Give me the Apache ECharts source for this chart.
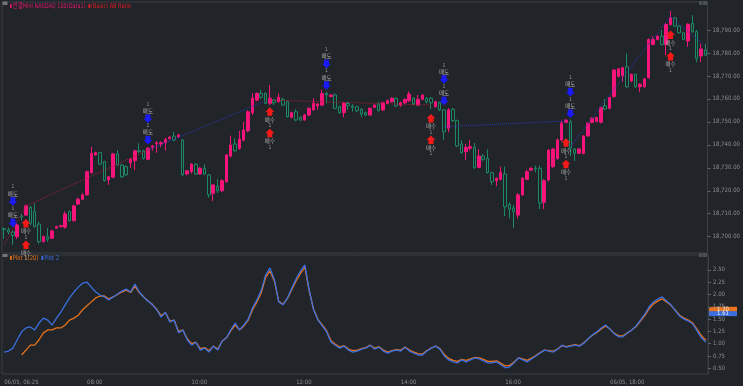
<!DOCTYPE html>
<html>
<head>
<meta charset="utf-8">
<script src="https://cdn.jsdelivr.net/npm/echarts@6/dist/echarts.min.js"></script>
<style>
html, body { margin: 0; padding: 0; background: #212428; }
#main { width: 743px; height: 386px; }
</style>
</head>
<body>
<div id="main"></div>
<script>
// 5 minute bars, [open, close, low, high]
var candles = [
  [18703.5,18703,18699,18704],[18703,18702,18701,18704],[18702,18700.5,18696.5,18702.8],[18700,18705.1,18699,18706],
  [18709,18708.5,18707,18710],[18709.4,18713.4,18709,18714],[18712.8,18705.8,18705,18713.5],[18710.9,18704.4,18704,18714.5],
  [18705.5,18697.8,18697,18706.5],[18697.8,18700,18697.5,18700.5],[18700,18698.9,18697.8,18703.7],[18699.3,18702.5,18699,18703],
  [18703.7,18704.4,18703.5,18704.8],[18704.4,18704.8,18704,18705.2],[18704.1,18709.9,18703.5,18711],[18710.9,18707,18706.5,18711.5],
  [18707,18713.4,18706.5,18714],[18714.2,18716.3,18713.8,18717],[18716.3,18718.2,18716,18719],[18718.2,18728.3,18718,18728.8],
  [18727.9,18736.3,18727.5,18739.2],[18735.6,18736.6,18735.3,18737],[18736.6,18731.6,18731.2,18737],[18732.7,18724.4,18724,18733],
  [18724.7,18726.1,18722.5,18726.5],[18725.9,18736,18725.5,18736.5],[18736,18731.2,18730.8,18737.7],[18731.2,18726.1,18725.5,18731.7],
  [18730.5,18727,18726.5,18731],[18732.2,18733.7,18730,18734],[18733.1,18737.4,18729,18737.8],[18737.4,18737,18736.5,18740.7],
  [18737.4,18734.1,18733.5,18737.8],[18733.7,18738.5,18733.3,18739],[18738.9,18739.5,18737.5,18740],[18740.4,18740.9,18736.5,18741.5],
  [18740.4,18740.9,18739,18741.5],[18740.9,18742.4,18737.5,18743],[18742.7,18743.3,18742.3,18743.8],[18743.8,18742.1,18741.5,18745.7],
  [18743.5,18744.3,18743,18744.8],[18742.1,18726.9,18726.5,18742.5],[18727.3,18728.7,18726.8,18729],[18728.3,18731.6,18727.5,18732],
  [18731.6,18727.3,18727,18732],[18727.3,18729.8,18727,18730.3],[18729.8,18727.3,18726.8,18731.5],[18726.9,18718.2,18717,18727.3],
  [18718.9,18722.5,18715.5,18723],[18722,18720,18719,18725],[18720,18724.4,18719.5,18725],[18723.9,18735.6,18723.5,18736],
  [18735.1,18739.9,18734.5,18744],[18740.4,18737.4,18737,18742.8],[18738.5,18742.4,18737.8,18746],[18742.1,18746.5,18741.5,18750],
  [18746.1,18754.4,18745.5,18755],[18754,18760.3,18753,18762.5],[18759.5,18762.4,18759,18762.8],[18762.4,18760.7,18760.2,18764],
  [18762.4,18758.1,18757.7,18762.8],[18758.1,18760.3,18757.3,18766],[18759.5,18758.3,18757.3,18760],[18758.8,18760.7,18758.4,18762.4],
  [18759.8,18757.3,18757,18760.5],[18758.8,18752.2,18752,18759.2],[18752,18754,18751.5,18754.4],[18754.4,18750.8,18750.3,18755.5],
  [18752,18750.8,18750.5,18752.5],[18750.8,18753,18750.5,18753.4],[18753,18755.9,18752.5,18756.3],[18755.2,18758.1,18754.8,18760.3],
  [18756.9,18757.8,18755.2,18758.2],[18757.3,18762.4,18756.9,18764],[18762.4,18761.7,18758,18763.2],[18761.1,18761.7,18760.7,18762.1],
  [18761.7,18755.9,18755.5,18762.4],[18756.6,18754,18753.5,18757],[18754,18758.1,18752,18758.5],[18758,18757,18755.2,18758.8],
  [18756.9,18756.3,18754.5,18757.7],[18756.6,18754.9,18754.3,18757],[18755.5,18753.4,18752,18756],[18754,18753,18752.5,18754.5],
  [18753,18755.9,18752.7,18756.3],[18756.3,18757.3,18756,18757.7],[18757.8,18754.9,18754.5,18758.8],[18755.2,18758.3,18754.8,18758.8],
  [18758.1,18759.2,18757.7,18759.8],[18758.8,18760.3,18758.4,18760.7],[18760.3,18756.9,18756.5,18760.7],[18757.3,18758.3,18756.5,18758.8],
  [18758.3,18759.8,18757.8,18760.2],[18759.2,18762.1,18758.8,18763.2],[18760.3,18757.8,18757.3,18760.7],[18757.3,18759.8,18756.9,18761.7],
  [18759.8,18761.7,18759.5,18762],[18760.3,18758.8,18758,18760.7],[18760.3,18758.3,18755.5,18760.7],[18756.6,18758.8,18756.3,18759.2],
  [18758.3,18755.2,18754.7,18758.8],[18755.2,18745.7,18742.1,18755.6],[18747.2,18755.2,18745.5,18756],[18755.5,18750.5,18750,18756],
  [18750.5,18739.5,18739,18751],[18740.4,18736.6,18736.2,18742.1],[18737,18738.9,18733.4,18740.4],[18738.5,18739.2,18737.5,18742.1],
  [18738.9,18730.2,18729.5,18740.8],[18730.2,18735.1,18729.8,18738.1],[18735.1,18733.7,18733,18736],[18734.1,18727.9,18727.5,18738],
  [18727.9,18723.9,18722.5,18728.3],[18724.4,18725.4,18722,18725.8],[18725,18727.9,18724.6,18730.5],[18727.3,18713,18709,18730.5],
  [18714,18712,18708,18715],[18712.5,18710.9,18703.8,18713.8],[18709.4,18718.2,18708,18719],[18718.2,18725.4,18717.8,18726],
  [18725,18728.3,18724.6,18729],[18729,18729.8,18728.5,18730.2],[18729.8,18729.5,18728,18731],[18729.8,18714.6,18712,18731],
  [18715,18724.4,18712,18725],[18724.7,18737.7,18724,18738],[18730.5,18738.2,18730,18738.6],[18734.1,18742.1,18733.5,18742.8],
  [18742.1,18749.4,18741.5,18750.4],[18749.8,18750.8,18749.5,18751],[18750,18738.5,18735,18751],[18738.2,18736.3,18733,18738.6],
  [18736.3,18738.2,18736,18738.6],[18736.3,18743.9,18735.8,18744.2],[18743.9,18749.4,18743.5,18749.8],[18749.8,18751.6,18749.4,18752],
  [18750.2,18751.9,18749.8,18752.2],[18749.8,18756.2,18749.4,18756.6],[18757,18755.6,18755,18760],[18755.9,18760.6,18755.5,18761],
  [18761,18772.6,18760.6,18773],[18769.8,18773.1,18769.4,18773.5],[18770.2,18773.6,18767.5,18774],[18774,18765.3,18764.8,18779.8],
  [18767.8,18770.7,18767.3,18771],[18770.7,18765.3,18764.8,18771],[18765.3,18766.4,18762.9,18766.8],[18765.3,18768.7,18764.9,18769],
  [18769.2,18785.9,18768.8,18786.3],[18783.7,18785.9,18783.3,18787.2],[18785.9,18787.3,18785.5,18787.7],[18787.3,18783.7,18783.3,18790],
  [18783.7,18792.4,18779,18793],[18792.4,18795.3,18792,18798.2],[18795.3,18791.7,18791.3,18795.7],[18791.7,18788.8,18788.4,18792],
  [18788.8,18785.9,18785.5,18789.2],[18785.2,18792.5,18782.7,18793],[18792.9,18789.3,18788.8,18796.5],[18789.3,18777.7,18776,18790],
  [18778.7,18781.7,18776,18784],[18781.3,18779.1,18778.7,18784]
];

// lower panel: Plot 1(20) (orange) and Plot 2 (blue)
var plot1 = [null,null,null,null,
  0.77,0.87,0.97,0.97,1.08,1.22,1.28,1.28,1.32,1.32,1.38,1.48,1.52,1.58,1.69,1.77,1.85,1.93,1.97,1.97,1.91,
  1.95,2.00,2.05,2.09,2.04,
  2.17,2.04,1.95,1.87,1.80,1.70,1.57,1.63,1.46,1.48,
  1.25,1.28,1.10,1.00,1.03,0.90,0.92,0.86,0.95,0.89,
  1.05,1.12,1.26,1.38,1.28,1.36,1.48,1.69,1.85,2.04,
  2.35,2.48,2.27,1.86,1.80,1.92,2.10,2.28,2.43,2.55,
  2.07,1.70,1.49,1.38,1.26,1.06,0.99,0.93,0.96,0.89,
  0.86,0.87,0.90,0.92,0.97,0.91,0.94,0.87,0.83,0.86,
  0.88,0.87,0.93,0.87,0.83,0.80,0.79,0.86,0.91,0.95,
  0.90,0.78,0.70,0.66,0.64,0.68,0.66,0.69,0.72,0.71,
  0.68,0.64,0.64,0.65,0.60,0.55,0.56,0.63,0.71,0.69,
  0.66,0.71,0.76,0.82,0.87,0.86,0.85,0.89,0.96,0.94,
  0.96,0.98,0.96,1.02,1.10,1.17,1.23,1.30,1.36,1.30,
  1.21,1.16,1.16,1.22,1.28,1.35,1.46,1.57,1.71,1.81,
  1.87,1.91,1.85,1.78,1.68,1.58,1.52,1.48,1.42,1.29,
  1.16,1.07];
var plot2 = [0.83,0.85,0.91,1.08,1.24,1.32,1.34,1.28,1.42,1.52,
  1.48,1.38,1.52,1.64,1.79,1.93,2.05,2.15,2.23,2.25,
  2.15,2.05,1.99,1.95,1.89,1.95,2.01,2.07,2.11,2.05,
  2.21,2.05,1.95,1.87,1.79,1.69,1.54,1.64,1.44,1.48,
  1.22,1.28,1.08,0.97,1.03,0.87,0.91,0.83,0.95,0.87,
  1.05,1.12,1.28,1.42,1.28,1.38,1.50,1.73,1.89,2.09,
  2.40,2.54,2.30,1.85,1.79,1.93,2.13,2.32,2.48,2.60,
  2.09,1.69,1.48,1.36,1.24,1.03,0.97,0.91,0.95,0.87,
  0.83,0.85,0.89,0.91,0.97,0.89,0.93,0.85,0.81,0.85,
  0.87,0.85,0.93,0.85,0.81,0.77,0.77,0.85,0.91,0.95,
  0.89,0.75,0.67,0.63,0.61,0.67,0.63,0.67,0.71,0.69,
  0.65,0.61,0.61,0.63,0.57,0.51,0.53,0.61,0.71,0.67,
  0.63,0.69,0.75,0.81,0.87,0.85,0.83,0.89,0.97,0.93,
  0.95,0.97,0.95,1.01,1.10,1.18,1.24,1.32,1.38,1.30,
  1.20,1.14,1.14,1.22,1.28,1.36,1.48,1.60,1.75,1.85,
  1.91,1.95,1.87,1.79,1.67,1.56,1.50,1.46,1.40,1.26,
  1.12,1.03];

var priceTicks = [18700,18710,18720,18730,18740,18750,18760,18770,18780,18790];
var ratioTicks = [0.5,0.75,1.0,1.25,1.5,1.75,2.0,2.25,2.5];
var timeLabelIdx = [0,19,43,67,91,115,139];
var timeLabelText = ['06/05, 06:25','08:00','10:00','12:00','14:00','16:00','06/05, 18:00'];

// AB Ratio trend segments [bar, price]
var trendRed = [
  [[0,18696.4],[5,18713.4],[33,18737.7]],
  [[61,18759.5],[98,18757.3]]
];
var trendBlue = [
  [[33,18737.7],[60,18759.1]],
  [[101,18747.9],[129,18750.4]],
  [[130,18739],[148,18784],[153,18795.8],[161,18783]]
];

// signals [bar, price of arrow nearest the candle]
var sellSignals = [[2,18706.1],[33,18742.1],[74,18766],[101,18759.2],[130,18753.7]];
var buySignals = [[5,18705.8],[61,18754.4],[98,18751.5],[129,18740.9],[153,18787.8]];

var lastTags = [['1.70','#e8731c',1.70],['1.61','#3b6fe0',1.61]];

var FONT = "'DejaVu Sans Condensed', 'Liberation Sans', sans-serif";
var AXIS_COLOR = '#8a8e95';
var FRAME = '#3a3e45';
var UP = '#f5157a';
var DOWN = '#1d8a66';

function pad(n) { return n < 10 ? '0' + n : '' + n; }
var categories = [];
for (var i = 0; i < candles.length; i++) {
  var m = 6 * 60 + 25 + 5 * i;
  categories.push(pad(Math.floor(m / 60)) + ':' + pad(m % 60));
}

function fmtPrice(v) {
  return v.toLocaleString('en-US', { minimumFractionDigits: 2, maximumFractionDigits: 2 });
}

function arrowShape(down) {
  var s = down ? 1 : -1;
  return [[-2.5, -4 * s], [2.5, -4 * s], [2.5, 0], [4.5, 0], [0, 4.5 * s], [-4.5, 0], [-2.5, 0]];
}

function signalRenderer(kind) {
  var sell = kind === 'sell';
  var col = sell ? '#1a1af5' : '#f51a1a';
  var word = sell ? '매도' : '매수';
  var dir = sell ? -1 : 1;
  return function (params, api) {
    var p = api.coord([api.value(0), api.value(1)]);
    var kids = [];
    for (var k = 0; k < 2; k++) {
      var base = dir * k * 21.5;
      kids.push({ type: 'polygon', shape: { points: arrowShape(sell) }, y: base, style: { fill: col } });
      kids.push({ type: 'text', style: { text: word, x: 0, y: base + dir * 7.7, align: 'center', verticalAlign: 'middle',
        fill: '#b0b0b0', font: "5.5px 'Noto Sans CJK KR'" } });
      kids.push({ type: 'text', style: { text: '1', x: 0, y: base + dir * 14, align: 'center', verticalAlign: 'middle',
        fill: '#9a9a9a', font: "5px " + FONT } });
    }
    return { type: 'group', x: p[0], y: p[1], children: kids };
  };
}

var series = [{
  type: 'candlestick',
  xAxisIndex: 0, yAxisIndex: 0,
  data: candles,
  barWidth: 3,
  itemStyle: { color: UP, color0: 'transparent', borderColor: UP, borderColor0: DOWN, borderWidth: 1 }
}];

trendRed.forEach(function (seg) {
  series.push({ type: 'line', xAxisIndex: 0, yAxisIndex: 0, data: seg, showSymbol: false, silent: true,
    lineStyle: { color: '#a3203a', width: 1, type: 'dotted' } });
});
trendBlue.forEach(function (seg) {
  series.push({ type: 'line', xAxisIndex: 0, yAxisIndex: 0, data: seg, showSymbol: false, silent: true,
    lineStyle: { color: '#2b38b8', width: 1, type: 'dotted' } });
});

series.push({ type: 'custom', xAxisIndex: 0, yAxisIndex: 0, data: sellSignals, renderItem: signalRenderer('sell'), clip: false, z: 10 });
series.push({ type: 'custom', xAxisIndex: 0, yAxisIndex: 0, data: buySignals, renderItem: signalRenderer('buy'), clip: false, z: 10 });

series.push({ type: 'line', xAxisIndex: 1, yAxisIndex: 1, data: plot1, showSymbol: false,
  lineStyle: { color: '#e8731c', width: 1.3 } });
series.push({ type: 'line', xAxisIndex: 1, yAxisIndex: 1, data: plot2, showSymbol: false,
  lineStyle: { color: '#3b6fe0', width: 1.3 } });

var valueAxisCommon = {
  type: 'value', position: 'right', scale: true,
  axisLine: { show: true, lineStyle: { color: FRAME } },
  splitLine: { show: false }
};

var option = {
  backgroundColor: '#212428',
  animation: false,
  grid: [
    { left: 2, right: 35, top: 2, height: 251, show: true, borderColor: FRAME, borderWidth: 1, backgroundColor: 'transparent' },
    { left: 2, right: 35, top: 255, height: 119, show: true, borderColor: FRAME, borderWidth: 1, backgroundColor: 'transparent' }
  ],
  xAxis: [
    { type: 'category', gridIndex: 0, data: categories, axisLine: { show: false }, axisTick: { show: false }, axisLabel: { show: false } },
    { type: 'category', gridIndex: 1, data: categories, axisLine: { show: false }, axisTick: { show: false },
      axisLabel: {
        color: AXIS_COLOR, fontFamily: FONT, fontSize: 6, align: 'left', margin: 5,
        interval: function (idx) { return timeLabelIdx.indexOf(idx) >= 0; },
        formatter: function (v, idx) { var j = timeLabelIdx.indexOf(idx); return j >= 0 ? timeLabelText[j] : ''; }
      } }
  ],
  yAxis: [
    Object.assign({}, valueAxisCommon, {
      gridIndex: 0, min: 18692.9, max: 18802.2,
      axisTick: { show: true, length: 3, lineStyle: { color: '#5d6168' }, customValues: priceTicks },
      axisLabel: { color: AXIS_COLOR, fontFamily: FONT, fontSize: 6, margin: 5, customValues: priceTicks, formatter: fmtPrice }
    }),
    Object.assign({}, valueAxisCommon, {
      gridIndex: 1, min: 0.384, max: 2.803,
      axisTick: { show: true, length: 3, lineStyle: { color: '#5d6168' }, customValues: ratioTicks },
      axisLabel: { color: AXIS_COLOR, fontFamily: FONT, fontSize: 6, margin: 5, customValues: ratioTicks,
        formatter: function (v) { return v.toFixed(2); } }
    })
  ],
  series: series
};

var chart = echarts.init(document.getElementById('main'));
chart.setOption(option);

// title, legend and small panel buttons
var sq = function (c) { return { width: 2, height: 4, backgroundColor: c }; };
var gfx = [
  { type: 'rect', shape: { x: 2.5, y: 1.5, width: 5, height: 3.5 }, style: { fill: '#70747b' } },
  { type: 'text', x: 10, y: 6, scaleX: 0.85, style: {
    text: '{a|}{b|연결Mini NASDAQ 100(Data1)} {c|}{d|(Basic) AB Ratio}', verticalAlign: 'middle',
    rich: {
      a: sq('#e0186c'), c: sq('#e01c24'),
      b: { fill: '#e0186c', fontFamily: "'DejaVu Sans Condensed', 'Noto Sans CJK KR'", fontSize: 6.5, padding: [0, 0, 0, 1] },
      d: { fill: '#e01c24', fontFamily: FONT, fontSize: 6.5, padding: [0, 0, 0, 1] }
    } } },
  { type: 'rect', shape: { x: 2.5, y: 254, width: 5, height: 3 }, style: { fill: '#70747b' } },
  { type: 'text', x: 10, y: 258, scaleX: 0.9, style: {
    text: '{a|}{b|Plot 1(20)} {c|}{d|Plot 2}', verticalAlign: 'middle',
    rich: {
      a: sq('#e8731c'), c: sq('#3b6fe0'),
      b: { fill: '#e8731c', fontFamily: FONT, fontSize: 6.5, padding: [0, 0, 0, 1] },
      d: { fill: '#3b6fe0', fontFamily: FONT, fontSize: 6.5, padding: [0, 0, 0, 1] }
    } } },
  { type: 'rect', shape: { x: 699, y: 1, width: 3.5, height: 4 }, style: { fill: '#4a4e55' } },
  { type: 'rect', shape: { x: 703, y: 1, width: 4, height: 4 }, style: { fill: '#4a4e55' } },
  { type: 'rect', shape: { x: 699, y: 253, width: 3.5, height: 4 }, style: { fill: '#4a4e55' } },
  { type: 'rect', shape: { x: 703, y: 253, width: 4, height: 4 }, style: { fill: '#4a4e55' } }
];
lastTags.forEach(function (t) {
  var y = chart.convertToPixel({ yAxisIndex: 1 }, t[2]);
  gfx.push({ type: 'rect', shape: { x: 709, y: y - 2.5, width: 28, height: 5 }, style: { fill: t[1] } });
  gfx.push({ type: 'text', style: { text: t[0], x: 723, y: y, align: 'center', verticalAlign: 'middle', fill: '#e8e8e8', font: "6px " + FONT } });
});
chart.setOption({ graphic: gfx });
</script>
</body>
</html>
